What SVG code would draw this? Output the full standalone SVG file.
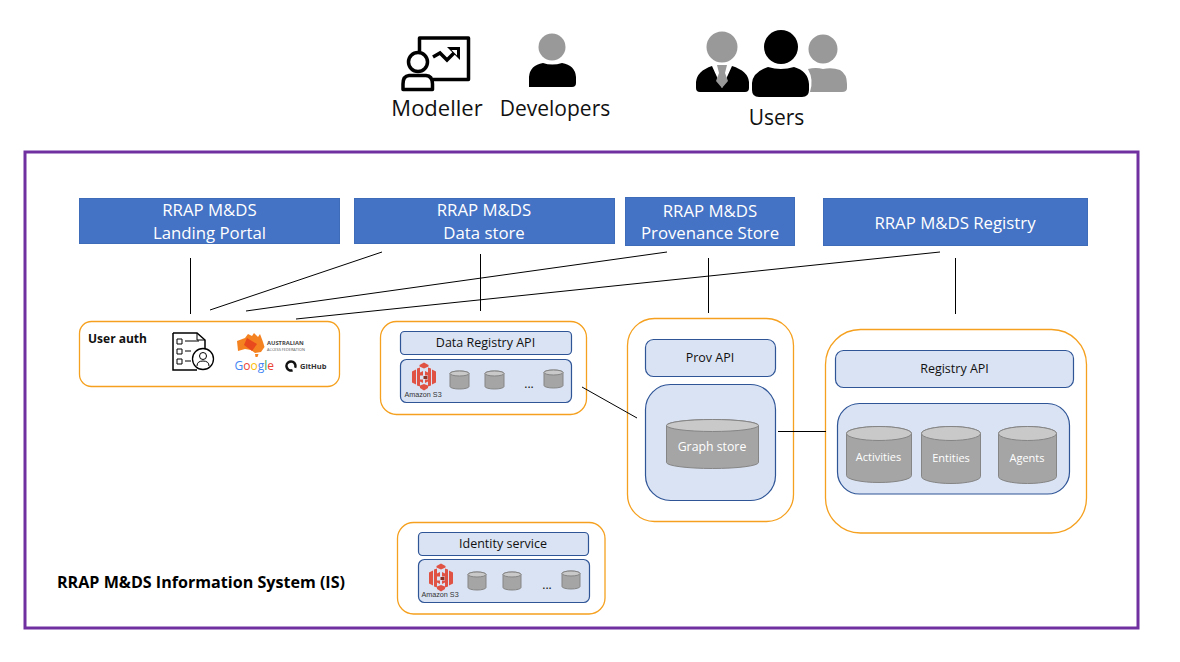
<svg xmlns="http://www.w3.org/2000/svg" width="1180" height="662" viewBox="0 0 1180 662">
<style>
text{font-family:"Open Sans","Noto Sans","Liberation Sans",sans-serif}
.blue{fill:#4472c4;stroke:#3f6cb8;stroke-width:1}
.bt{fill:#fff;font-size:16.800px;text-anchor:middle}
.org{fill:#fff;stroke:#f5a01e;stroke-width:1.300}
.api{fill:#dae3f3;stroke:#2f5597;stroke-width:1.200}
.at{fill:#111;font-size:12.500px;text-anchor:middle}
.cyl{fill:#a5a5a5;stroke:#858585;stroke-width:1}
.top{fill:#c9c9c9;stroke:#858585;stroke-width:1}
.ct{fill:#fff;font-size:11px;text-anchor:middle}
.big{fill:#111;font-size:21px;text-anchor:middle}
.s3{fill:#e05243}
.s3d{fill:#8c3123}
.s3t{fill:#333;font-size:7.200px;font-family:"Liberation Sans",sans-serif}
.dots{fill:#111;font-size:12px;text-anchor:middle}
.con line{stroke:#000;stroke-width:1}
.g{fill:#999}
.k{fill:#000}
.ol{fill:none;stroke:#000}
</style>
<defs>
<g id="s3i">
<path class="s3" d="M0 9 L4 7 V22 L0 20Z M24 9 L20 7 V22 L24 20Z"/>
<path class="s3" d="M5 6 L8 5 V10 L11 8.500 V13 H8 V17 H11 V20.500 L8 19 V24 L5 23Z"/>
<path class="s3" d="M19 6 L16 5 V10 L13 8.500 V13 H16 V17 H13 V20.500 L16 19 V24 L19 23Z"/>
<path class="s3" d="M7.500 2.500 L12 0 L16.500 2.500 V4 L12 6 L7.500 4Z"/>
<path class="s3" d="M8 23 L12 21.500 L16 23 V25.500 L12 28 L8 25.500Z"/>
<path class="s3d" d="M11.500 13.500 H15.500 V16.500 H11.500Z"/>
</g>
</defs>
<rect x="25" y="152" width="1113" height="476" fill="#fff" stroke="#7030a0" stroke-width="3"/>

<g id="modeller">
<path class="ol" stroke-width="3.500" stroke-linejoin="round" d="M419.500 52 V38 H468.500 V79.500 H433"/>
<circle class="ol" stroke-width="3.500" cx="418" cy="62" r="9.500"/>
<path class="ol" stroke-width="3.500" d="M409 75.500 H426 Q432.500 76 432.500 84 V89.500 H403 V84 Q403 76 409 75.500Z" stroke-linejoin="round"/>
<path class="ol" stroke-width="3.500" d="M433 57 L440 53 L447 60 L456 51"/>
<path class="k" d="M447 47 H460 V60Z"/>
<path d="M451.500 50 H457 V55.500Z" fill="#fff"/>
<text class="big" x="437" y="116" style="font-size:22px">Modeller</text>
</g>
<g id="developers">
<circle class="g" cx="552" cy="47" r="13.500"/>
<path class="k" d="M529 87 V77 Q530 65 543 63 Q552 66 562 63 Q575 65 576 77 V83 Q576 87 572 87Z"/>
<text class="big" x="555" y="116">Developers</text>
</g>
<g id="users">
<circle class="g" cx="823" cy="49" r="14.500"/>
<path class="g" d="M808 69 Q816 67 823 69 Q832 67 840 70 Q847 74 847 84 V88 Q847 92 842 92 H810 Q814 80 808 69Z"/>
<circle class="g" cx="722" cy="47" r="15.500"/>
<path class="k" d="M696 88 V82 Q697 71 712 66 L722 88 L732 66 Q748 71 749 82 V88 Q749 92 745 92 H700 Q696 92 696 88Z"/>
<path class="g" d="M717 65 H727 L725 73 L728 81 L722 88 L716 81 L719 73Z"/>
<circle class="k" cx="781" cy="47" r="17"/>
<path class="k" d="M752 90 V83 Q753 72 768 67 Q781 71 794 67 Q808 71 809 84 V90 Q809 97 802 97 H759 Q752 97 752 90Z"/>
<text class="big" x="776.500" y="125">Users</text>
</g>

<g id="portal"><rect class="blue" x="79.500" y="198.500" width="260" height="45"/><text class="bt" x="209.500" y="216">RRAP M&amp;DS</text><text class="bt" x="209.500" y="239">Landing Portal</text></g>
<g id="datastore"><rect class="blue" x="354.500" y="198.500" width="260" height="45"/><text class="bt" x="484" y="216">RRAP M&amp;DS</text><text class="bt" x="484" y="239">Data store</text></g>
<g id="provstore"><rect class="blue" x="625.500" y="197.500" width="169" height="48"/><text class="bt" x="710" y="217">RRAP M&amp;DS</text><text class="bt" x="710" y="239">Provenance Store</text></g>
<g id="registry"><rect class="blue" x="823.500" y="198.500" width="264" height="47"/><text class="bt" x="955" y="229">RRAP M&amp;DS Registry</text></g>

<g id="userauth">
<rect class="org" x="79.500" y="321.500" width="260" height="65" rx="12"/>
<text x="88" y="343" font-size="12" font-weight="700" fill="#111">User auth</text>
<path class="ol" stroke-width="1.500" d="M173 333 H197 L205 340 V354 M173 333 V370 H197"/>
<path class="ol" stroke-width="1" d="M197 333 V340 H205 M177 339 h5 v5 h-5z M177 349 h5 v5 h-5z M177 359 h5 v5 h-5z M185 341 h14 M185 351 h6 M185 361 h6"/>
<circle cx="203" cy="359" r="10.500" fill="#fff" stroke="#000" stroke-width="1.300"/>
<circle class="ol" cx="203" cy="356" r="3.500"/>
<path class="ol" d="M197 366 Q197 361 203 361 Q209 361 209 366"/>
<path fill="#f58220" d="M237 341 L245 338 L248 334 L252 336 L254 333 L258 337 L260 334 L263 342 L264.500 347 L261 352 L255 353 L251 350 L245 349 L238 351 Z"/>
<path fill="#e8491d" d="M247 338 L257 344 L252 351 L244 345Z"/>
<path fill="#f58220" d="M255 354 h3.500 l-1 3 h-2z"/>
<text x="267" y="344.500" font-size="5.800" font-weight="700" fill="#444" font-family="Liberation Sans,sans-serif">AUSTRALIAN</text>
<text x="267" y="350.500" font-size="3.900" fill="#555" font-family="Liberation Sans,sans-serif">ACCESS FEDERATION</text>
<text x="234.500" y="370" font-size="12" font-family="Liberation Sans,sans-serif"><tspan fill="#4285f4">G</tspan><tspan fill="#ea4335">o</tspan><tspan fill="#fbbc05">o</tspan><tspan fill="#4285f4">g</tspan><tspan fill="#34a853">l</tspan><tspan fill="#ea4335">e</tspan></text>
<circle cx="291" cy="366" r="4.500" fill="none" stroke="#111" stroke-width="2.500" stroke-dasharray="24 4.300" transform="rotate(70 291 366)"/>
<text x="300" y="369" font-size="7.500" font-weight="700" fill="#333" font-family="Liberation Sans,sans-serif">GitHub</text>
</g>

<g id="dataapi">
<rect class="org" x="380.500" y="321.500" width="206" height="93" rx="16"/>
<rect class="api" x="400.500" y="331.500" width="171" height="23" rx="4"/>
<text class="at" x="485.500" y="347">Data Registry API</text>
<rect class="api" x="400.500" y="359.500" width="171" height="43" rx="6"/>
<use href="#s3i" x="412" y="362.500"/>
<text class="s3t" x="404.500" y="397">Amazon S3</text>
<path class="cyl" d="M450 373.500 a9.500 2.500 0 0 1 19 0 v13 a9.500 2.500 0 0 1 -19 0z"/><ellipse class="top" cx="459.500" cy="373.500" rx="9.500" ry="2.500"/>
<path class="cyl" d="M485 373.500 a9.500 2.500 0 0 1 19 0 v13 a9.500 2.500 0 0 1 -19 0z"/><ellipse class="top" cx="494.500" cy="373.500" rx="9.500" ry="2.500"/>
<path class="cyl" d="M544 372.500 a9.500 2.500 0 0 1 19 0 v13 a9.500 2.500 0 0 1 -19 0z"/><ellipse class="top" cx="553.500" cy="372.500" rx="9.500" ry="2.500"/>
<text class="dots" x="529" y="388">...</text>
</g>

<g id="provapi">
<rect class="org" x="627.500" y="318.500" width="166" height="203" rx="27"/>
<rect class="api" x="645.500" y="339.500" width="130" height="37" rx="8"/>
<text class="at" x="710" y="362">Prov API</text>
<rect class="api" x="645.500" y="384.500" width="130" height="116" rx="25"/>
<path class="cyl" d="M666.500 425.500 a46 6 0 0 1 92 0 v37 a46 6 0 0 1 -92 0z"/><ellipse class="top" cx="712.500" cy="425.500" rx="46" ry="6"/>
<text class="ct" x="712" y="451" style="font-size:12.300px">Graph store</text>
</g>

<g id="registryapi">
<rect class="org" x="825.500" y="329.500" width="261" height="203.500" rx="35"/>
<rect class="api" x="835.500" y="350.500" width="238" height="37" rx="8"/>
<text class="at" x="954.500" y="373">Registry API</text>
<rect class="api" x="837.500" y="403.500" width="232" height="90.500" rx="22"/>
<path class="cyl" d="M846.500 433.500 a32.500 7 0 0 1 65 0 v42 a32.500 7 0 0 1 -65 0z"/><ellipse class="top" cx="879" cy="433.500" rx="32.500" ry="7"/>
<text class="ct" x="878.500" y="461">Activities</text>
<path class="cyl" d="M921.500 433.500 a29.500 7 0 0 1 59 0 v43 a29.500 7 0 0 1 -59 0z"/><ellipse class="top" cx="951" cy="433.500" rx="29.500" ry="7"/>
<text class="ct" x="951" y="462">Entities</text>
<path class="cyl" d="M998.500 433.500 a29 7 0 0 1 58 0 v43 a29 7 0 0 1 -58 0z"/><ellipse class="top" cx="1027.500" cy="433.500" rx="29" ry="7"/>
<text class="ct" x="1027" y="462">Agents</text>
</g>

<g id="identity">
<rect class="org" x="397.500" y="522.500" width="207.500" height="91.500" rx="16"/>
<rect class="api" x="418.500" y="532.500" width="170" height="23" rx="4"/>
<text class="at" x="503" y="548">Identity service</text>
<rect class="api" x="418.500" y="559.500" width="171" height="43" rx="6"/>
<use href="#s3i" x="429" y="563.500"/>
<text class="s3t" x="421.500" y="597">Amazon S3</text>
<path class="cyl" d="M468 574.500 a9 2.500 0 0 1 18 0 v13 a9 2.500 0 0 1 -18 0z"/><ellipse class="top" cx="477" cy="574.500" rx="9" ry="2.500"/>
<path class="cyl" d="M503 574.500 a9 2.500 0 0 1 18 0 v13 a9 2.500 0 0 1 -18 0z"/><ellipse class="top" cx="512" cy="574.500" rx="9" ry="2.500"/>
<path class="cyl" d="M562 573.500 a9 2.500 0 0 1 18 0 v13 a9 2.500 0 0 1 -18 0z"/><ellipse class="top" cx="571" cy="573.500" rx="9" ry="2.500"/>
<text class="dots" x="547" y="589">...</text>
</g>

<g class="con">
<line x1="190.500" y1="258" x2="190.500" y2="314"/>
<line x1="382" y1="252" x2="210" y2="310"/>
<line x1="480.500" y1="254" x2="480.500" y2="311"/>
<line x1="667" y1="252" x2="246" y2="311"/>
<line x1="940" y1="252" x2="296" y2="319"/>
<line x1="708.500" y1="258" x2="708.500" y2="313"/>
<line x1="955.500" y1="258" x2="955.500" y2="314"/>
<line x1="582" y1="387" x2="637" y2="418"/>
<line x1="778" y1="431.500" x2="826" y2="431.500"/>
</g>

<text x="57" y="587.500" font-size="16.100" font-weight="700" fill="#000">RRAP M&amp;DS Information System (IS)</text>
</svg>
